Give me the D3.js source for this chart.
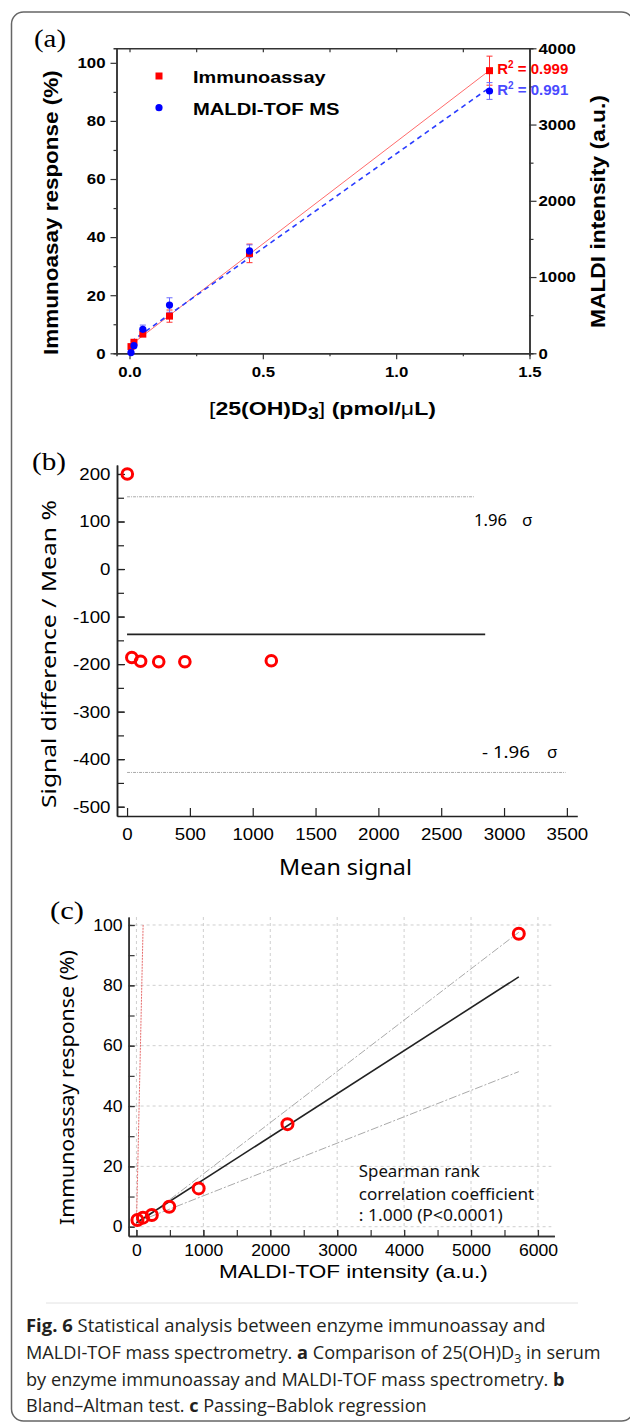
<!DOCTYPE html>
<html>
<head>
<meta charset="utf-8">
<script src="https://cdn.jsdelivr.net/npm/d3@7"></script>
<style>
  body { margin: 0; background: #fff; }
  svg { display: block; }
</style>
</head>
<body>
<div id="chart"></div>
<script>
// ---- panel (a): immunoassay vs MALDI-TOF by concentration
var concentration = [0.0056, 0.0167, 0.05, 0.15, 0.45, 1.35];
var immunoResponse = [2.3, 3.8, 6.6, 12.8, 34.4, 97.3];
var immunoError = [0.5, 0.6, 0.8, 2.1, 3.2, 5.0];
var maldiIntensity = [10, 100, 315, 633, 1342, 3440];
var maldiError = [15, 25, 55, 95, 80, 110];
var rSquared = ['0.999', '0.991'];
var xTicksA = [0, 0.5, 1.0, 1.5];
var yTicksA = [0, 20, 40, 60, 80, 100];
var yTicksMaldi = [0, 1000, 2000, 3000, 4000];

// ---- panel (b): Bland-Altman
var meanSignal = [2, 38, 108, 252, 460, 1148];
var diffPercent = [200, -186, -194, -195, -195, -193];
var limitValues = [152, -137.5, -428];   // +1.96 sd, mean, -1.96 sd
var limitEnds = [2760, 2850, 3490];
var xTicksB = [0, 500, 1000, 1500, 2000, 2500, 3000, 3500];
var yTicksB = [-500, -400, -300, -200, -100, 0, 100, 200];

// ---- panel (c): Passing-Bablok
var maldiC = [15, 98, 230, 490, 930, 2257, 5714];
var immunoC = [2.2, 3.0, 3.9, 6.6, 12.7, 34.0, 97.1];
var fitLine = [[0, 1.3], [5714, 82.8]];
var upperCI = [[0, 0.5], [5714, 97.6]];
var lowerCI = [[0, 1.5], [5714, 51.4]];
var identityLine = [[0, 0], [100, 100]];
var xTicksC = [0, 1000, 2000, 3000, 4000, 5000, 6000];
var yTicksC = [0, 20, 40, 60, 80, 100];

var W = 630, H = 1424;
var arial = '"Liberation Sans", Arial, sans-serif';
var gothic = '"Noto Sans", "Open Sans", sans-serif';
var serif = '"Liberation Serif", "Times New Roman", serif';
var plain = function (d) { return String(d); };   // no thousands comma, hyphen minus

var svg = d3.select('#chart').append('svg')
  .attr('width', W).attr('height', H);

// outer frame
svg.append('rect')
  .attr('x', 11.5).attr('y', 12).attr('width', 622).attr('height', 1409)
  .attr('rx', 12).attr('fill', 'none').attr('stroke', '#666').attr('stroke-width', 1.5);

// text helper: parts can carry weight / size / dy, width is forced with a horizontal scale
function label(g, x, y, parts, o) {
  var t = g.append('text')
    .attr('font-family', o.font || arial)
    .attr('font-size', o.size)
    .attr('font-weight', o.weight || 'normal')
    .attr('fill', o.color || '#000');
  if (typeof parts === 'string') parts = [parts];
  parts.forEach(function (p) {
    if (typeof p === 'string') p = { t: p };
    var s = t.append('tspan').text(p.t);
    if (p.w) s.attr('font-weight', p.w);
    if (p.dy) s.attr('dy', p.dy);
    if (p.size) s.attr('font-size', p.size);
  });
  var w = t.node().getComputedTextLength();
  var len = o.len || w;
  var shift = o.anchor === 'middle' ? len / 2 : (o.anchor === 'end' ? len : 0);
  t.attr('transform', 'translate(' + x + ',' + y + ')' +
    (o.rotate ? ' rotate(' + o.rotate + ')' : '') +
    ' translate(' + (-shift) + ',0) scale(' + (len / w) + ',1)');
  return t;
}

// axis styling helper
function styleAxis(g, font, size, weight, sx, color) {
  g.attr('font-family', font).attr('font-size', size).attr('font-weight', weight);
  g.selectAll('path').attr('stroke', color).attr('stroke-width', 1.5);
  g.selectAll('line').attr('stroke', color).attr('stroke-width', 1.2);
  g.selectAll('text').attr('fill', '#000').each(function () {
    var x = +this.getAttribute('x') || 0;
    d3.select(this).attr('x', x / sx).attr('transform', 'scale(' + sx + ',1)');
  });
}

// ================= panel (a) =================
var ga = svg.append('g');
var xA = d3.scaleLinear().domain([-0.04875, 1.5]).range([116.5, 529.5]);
var yA = d3.scaleLinear().domain([0, 105]).range([353.3, 48.3]);
var yM = d3.scaleLinear().domain([0, 4000]).range([353.3, 48.3]);
var axA = '#333';

ga.append('g').attr('transform', 'translate(0,48.3)')
  .call(d3.axisTop(xA).tickValues([0, 0.25, 0.5, 0.75, 1, 1.25, 1.5]).tickSizeInner(-4).tickSizeOuter(0).tickFormat(''))
  .call(styleAxis, arial, 15, 'bold', 1, axA);
ga.append('g').attr('transform', 'translate(0,353.3)')
  .call(d3.axisBottom(xA).tickValues([0.25, 0.75, 1.25]).tickSize(3).tickFormat(''))
  .call(styleAxis, arial, 15, 'bold', 1, axA);
ga.append('g').attr('transform', 'translate(0,353.3)')
  .call(d3.axisBottom(xA).tickValues(xTicksA).tickSize(6).tickSizeOuter(0).tickPadding(7).tickFormat(d3.format('.1f')))
  .call(styleAxis, arial, 15, 'bold', 1.12, axA);
ga.append('g').attr('transform', 'translate(116.5,0)')
  .call(d3.axisLeft(yA).tickValues([10, 30, 50, 70, 90]).tickSize(3).tickFormat(''))
  .call(styleAxis, arial, 15, 'bold', 1, axA);
ga.append('g').attr('transform', 'translate(116.5,0)')
  .call(d3.axisLeft(yA).tickValues(yTicksA).tickSize(6).tickSizeOuter(0).tickPadding(5).tickFormat(plain))
  .call(styleAxis, arial, 15, 'bold', 1.12, axA);
ga.append('g').attr('transform', 'translate(529.5,0)')
  .call(d3.axisRight(yM).tickValues([500, 1500, 2500, 3500]).tickSize(4).tickFormat(''))
  .call(styleAxis, arial, 15, 'bold', 1, axA);
ga.append('g').attr('transform', 'translate(529.5,0)')
  .call(d3.axisRight(yM).tickValues(yTicksMaldi).tickSize(7).tickSizeOuter(0).tickPadding(2).tickFormat(plain))
  .call(styleAxis, arial, 15, 'bold', 1.12, axA);

// least-squares fit lines drawn across the measured range
function linFit(xs, ys) {
  var mx = d3.mean(xs), my = d3.mean(ys);
  var sxy = d3.sum(xs, function (x, i) { return (x - mx) * (ys[i] - my); });
  var sxx = d3.sum(xs, function (x) { return (x - mx) * (x - mx); });
  var b = sxy / sxx;
  return { a: my - b * mx, b: b };
}
var fitImmuno = linFit(concentration, immunoResponse);
var fitMaldi = linFit(concentration, maldiIntensity);
var xEnds = d3.extent(concentration);

ga.append('line')
  .attr('x1', xA(xEnds[0])).attr('y1', yA(fitImmuno.a + fitImmuno.b * xEnds[0]))
  .attr('x2', xA(xEnds[1])).attr('y2', yA(fitImmuno.a + fitImmuno.b * xEnds[1]))
  .attr('stroke', '#ff6b6b').attr('stroke-width', 1);
ga.append('line')
  .attr('x1', xA(xEnds[0])).attr('y1', yM(fitMaldi.a + fitMaldi.b * xEnds[0]))
  .attr('x2', xA(xEnds[1])).attr('y2', yM(fitMaldi.a + fitMaldi.b * xEnds[1]))
  .attr('stroke', '#2a3cff').attr('stroke-width', 1.6).attr('stroke-dasharray', '5,4');

// error bars
function errorBars(g, ys, errs, yScale, color) {
  concentration.forEach(function (c, i) {
    var x = xA(c), t = yScale(ys[i] + errs[i]), b = yScale(ys[i] - errs[i]);
    g.append('line').attr('x1', x).attr('x2', x).attr('y1', t).attr('y2', b)
      .attr('stroke', color).attr('stroke-width', 1);
    [t, b].forEach(function (yy) {
      g.append('line').attr('x1', x - 3).attr('x2', x + 3).attr('y1', yy).attr('y2', yy)
        .attr('stroke', color).attr('stroke-width', 1);
    });
  });
}
errorBars(ga, immunoResponse, immunoError, yA, '#ff3030');
errorBars(ga, maldiIntensity, maldiError, yM, '#6a6aff');

ga.selectAll('rect.immuno').data(concentration).enter().append('rect')
  .attr('class', 'immuno')
  .attr('x', function (d) { return xA(d) - 3.5; })
  .attr('y', function (d, i) { return yA(immunoResponse[i]) - 3.5; })
  .attr('width', 7).attr('height', 7).attr('fill', '#ff0000');
ga.selectAll('circle.maldi').data(concentration).enter().append('circle')
  .attr('class', 'maldi')
  .attr('cx', function (d) { return xA(d); })
  .attr('cy', function (d, i) { return yM(maldiIntensity[i]); })
  .attr('r', 3.6).attr('fill', '#0000ff');

// legend
ga.append('rect').attr('x', 155.5).attr('y', 72.5).attr('width', 7).attr('height', 7).attr('fill', '#ff0000');
ga.append('circle').attr('cx', 159).attr('cy', 107.7).attr('r', 3.6).attr('fill', '#0000ff');
label(ga, 193, 83.3, 'Immunoassay', { size: 16, weight: 'bold', len: 132.6 });
label(ga, 193, 115, 'MALDI-TOF MS', { size: 16, weight: 'bold', len: 146.5 });

// R squared
label(ga, 497.3, 74, ['R', { t: '2', dy: -6, size: 10 }, { t: ' = ' + rSquared[0], dy: 6 }],
  { size: 15, weight: 'bold', color: '#ff0000', len: 71 });
label(ga, 497.3, 95, ['R', { t: '2', dy: -6, size: 10 }, { t: ' = ' + rSquared[1], dy: 6 }],
  { size: 15, weight: 'bold', color: '#4a4aff', len: 71 });

// titles
label(ga, 34, 47, '(a)', { font: serif, size: 25, len: 32 });
label(ga, 58, 212.5, 'Immunoasay response (%)', { size: 20, weight: 'bold', rotate: -90, anchor: 'middle', len: 285 });
label(ga, 604.5, 211.5, 'MALDI intensity (a.u.)', { size: 21, weight: 'bold', rotate: -90, anchor: 'middle', len: 233 });
label(ga, 322.5, 415, [{ t: '[', w: 'normal' }, '25(OH)D', { t: '3', dy: 4, size: 16 }, { t: ']', dy: -4, w: 'normal' },
  ' (pmol/', { t: 'μ', w: 'normal' }, 'L)'], { size: 18.5, weight: 'bold', anchor: 'middle', len: 227 });

// ================= panel (b) =================
var gb = svg.append('g');
var xB = d3.scaleLinear().domain([-80, 3583]).range([117, 577.3]);
var yB = d3.scaleLinear().domain([-519.6, 218.9]).range([816, 465]);

gb.append('g').attr('transform', 'translate(117,0)')
  .call(d3.axisLeft(yB).tickValues(d3.range(-500, 201, 50)).tickSizeInner(-7).tickSizeOuter(0).tickFormat(''))
  .call(styleAxis, arial, 17, 'normal', 1, '#222');
gb.append('g').attr('transform', 'translate(117,0)')
  .call(d3.axisLeft(yB).tickValues(yTicksB).tickSizeInner(-8).tickSizeOuter(0).tickPadding(6.5).tickFormat(plain))
  .call(styleAxis, arial, 17, 'normal', 1.1, '#222');
gb.append('g').attr('transform', 'translate(0,816)')
  .call(d3.axisBottom(xB).tickValues(xTicksB).tickSizeInner(-8).tickSizeOuter(0).tickPadding(12).tickFormat(plain))
  .call(styleAxis, arial, 17, 'normal', 1.1, '#222');

gb.selectAll('line.limit').data(limitValues).enter().append('line')
  .attr('class', 'limit')
  .attr('x1', xB(0)).attr('x2', function (d, i) { return xB(limitEnds[i]); })
  .attr('y1', function (d) { return yB(d); }).attr('y2', function (d) { return yB(d); })
  .attr('stroke', function (d, i) { return i === 1 ? '#222' : '#aaa'; })
  .attr('stroke-width', function (d, i) { return i === 1 ? 1.6 : 1; })
  .attr('stroke-dasharray', function (d, i) { return i === 1 ? null : '3,1,1,1'; });

gb.selectAll('circle.ba').data(meanSignal).enter().append('circle')
  .attr('class', 'ba')
  .attr('cx', function (d) { return xB(d); })
  .attr('cy', function (d, i) { return yB(diffPercent[i]); })
  .attr('r', 5.3).attr('fill', 'none').attr('stroke', '#ff0000').attr('stroke-width', 3);

label(gb, 32, 470, '(b)', { font: serif, size: 25, len: 34 });
label(gb, 56, 654, 'Signal difference / Mean %', { font: gothic, size: 20, rotate: -90, anchor: 'middle', len: 308 });
label(gb, 345.5, 875, 'Mean signal', { font: gothic, size: 21, anchor: 'middle', len: 133 });
label(gb, 474, 526, '1.96', { font: gothic, size: 17, len: 33 });
label(gb, 522, 526, 'σ', { font: gothic, size: 17 });
label(gb, 482, 758, '- 1.96', { font: gothic, size: 17, len: 48 });
label(gb, 547, 758, 'σ', { font: gothic, size: 17 });

// ================= panel (c) =================
var gc = svg.append('g');
var xC = d3.scaleLinear().domain([-117, 6246]).range([128.6, 554.4]);
var yC = d3.scaleLinear().domain([-3.08, 102.65]).range([1236, 917]);

// dashed grid
gc.selectAll('line.gx').data(xTicksC).enter().append('line')
  .attr('class', 'gx')
  .attr('x1', function (d) { return xC(d); }).attr('x2', function (d) { return xC(d); })
  .attr('y1', yC(102.65)).attr('y2', yC(-3.08))
  .attr('stroke', '#cfcfcf').attr('stroke-width', 1).attr('stroke-dasharray', '3,3');
gc.selectAll('line.gy').data(yTicksC).enter().append('line')
  .attr('class', 'gy')
  .attr('x1', xC(-117)).attr('x2', xC(6200))
  .attr('y1', function (d) { return yC(d); }).attr('y2', function (d) { return yC(d); })
  .attr('stroke', '#cfcfcf').attr('stroke-width', 1).attr('stroke-dasharray', '3,3');

gc.append('g').attr('transform', 'translate(128.6,0)')
  .call(d3.axisLeft(yC).tickValues(d3.range(0, 101, 10)).tickSizeInner(-6).tickSizeOuter(0).tickFormat(''))
  .call(styleAxis, arial, 16, 'normal', 1, '#333');
gc.append('g').attr('transform', 'translate(128.6,0)')
  .call(d3.axisLeft(yC).tickValues(yTicksC).tickSizeInner(-6).tickSizeOuter(0).tickPadding(6).tickFormat(plain))
  .call(styleAxis, arial, 16, 'normal', 1.1, '#333');
gc.append('g').attr('transform', 'translate(0,1236)')
  .call(d3.axisBottom(xC).tickValues(d3.range(0, 6001, 500)).tickSizeInner(-6).tickSizeOuter(0).tickFormat(''))
  .call(styleAxis, arial, 16, 'normal', 1, '#333');
gc.append('g').attr('transform', 'translate(0,1236)')
  .call(d3.axisBottom(xC).tickValues(xTicksC).tickSizeInner(-6).tickSizeOuter(0).tickPadding(8.6).tickFormat(plain))
  .call(styleAxis, arial, 16, 'normal', 1.1, '#333');

var lineC = d3.line().x(function (d) { return xC(d[0]); }).y(function (d) { return yC(d[1]); });
gc.append('path').datum(identityLine).attr('d', lineC)
  .attr('fill', 'none').attr('stroke', '#e35a5a').attr('stroke-width', 0.9).attr('stroke-dasharray', '2,1');
gc.append('path').datum(upperCI).attr('d', lineC)
  .attr('fill', 'none').attr('stroke', '#aaa').attr('stroke-width', 1).attr('stroke-dasharray', '8,2,2,2');
gc.append('path').datum(lowerCI).attr('d', lineC)
  .attr('fill', 'none').attr('stroke', '#aaa').attr('stroke-width', 1).attr('stroke-dasharray', '8,2,2,2');
gc.append('path').datum(fitLine).attr('d', lineC)
  .attr('fill', 'none').attr('stroke', '#222').attr('stroke-width', 1.6);

gc.selectAll('circle.pb').data(maldiC).enter().append('circle')
  .attr('class', 'pb')
  .attr('cx', function (d) { return xC(d); })
  .attr('cy', function (d, i) { return yC(immunoC[i]); })
  .attr('r', 5.5).attr('fill', 'none').attr('stroke', '#ff0000').attr('stroke-width', 3);

label(gc, 50, 919, '(c)', { font: serif, size: 25, len: 34 });
label(gc, 74, 1087.5, 'Immunoassay response (%)', { font: gothic, size: 20, rotate: -90, anchor: 'middle', len: 275 });
label(gc, 353.5, 1278, 'MALDI-TOF intensity (a.u.)', { size: 18, anchor: 'middle', len: 269 });
label(gc, 358.8, 1177, 'Spearman rank', { font: gothic, size: 16, color: '#111', len: 121 });
label(gc, 358.8, 1199.5, 'correlation coefficient', { font: gothic, size: 16, color: '#111', len: 175.6 });
label(gc, 358.8, 1221, ': 1.000 (P<0.0001)', { font: gothic, size: 16, color: '#111', len: 144 });

// ================= caption =================
var gcap = svg.append('g');
gcap.append('line').attr('x1', 46).attr('x2', 578).attr('y1', 1303).attr('y2', 1303)
  .attr('stroke', '#e2e2e2').attr('stroke-width', 1);
var capFont = { font: '"Open Sans", "Noto Sans", sans-serif', size: 17.5, color: '#231f20' };
function capOpts(len) { return Object.assign({}, capFont, { len: len }); }
label(gcap, 26, 1332, [{ t: 'Fig. 6', w: 'bold' }, '  Statistical analysis between enzyme immunoassay and'], capOpts(520));
label(gcap, 26, 1359, ['MALDI-TOF mass spectrometry. ', { t: 'a', w: 'bold' }, ' Comparison of 25(OH)D',
  { t: '3', dy: 4, size: 12 }, { t: ' in serum', dy: -4 }], capOpts(575));
label(gcap, 26, 1386, ['by enzyme immunoassay and MALDI-TOF mass spectrometry. ', { t: 'b', w: 'bold' }], capOpts(539));
label(gcap, 26, 1412, ['Bland–Altman test. ', { t: 'c', w: 'bold' }, ' Passing–Bablok regression'], capOpts(401));
</script>
</body>
</html>
